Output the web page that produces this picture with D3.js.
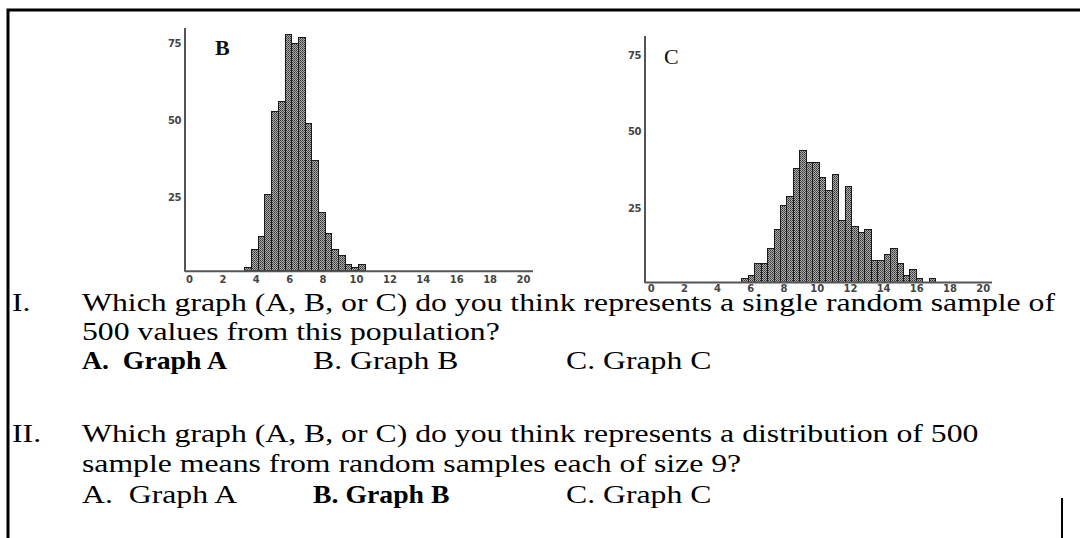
<!DOCTYPE html>
<html>
<head>
<meta charset="utf-8">
<script src="https://cdn.jsdelivr.net/npm/d3@7"></script>
<style>
  body { margin: 0; background: #fff; }
  svg { display: block; }
  .tick text { font-family: "DejaVu Sans", sans-serif; font-weight: bold; fill: #444; }
</style>
</head>
<body>
<div id="chart"></div>
<script>
// histogram B: counts per bin, bins start at 3.35, width 0.4
let countsB = [1, 7, 11, 25, 52, 55, 77, 74, 76, 48, 36, 19, 12, 7, 5, 2, 1, 2];
let binStartB = 3.35, binWidthB = 0.4;

// histogram C: counts per bin, bins start at 5.48, width 0.39
let countsC = [1, 2, 6, 6, 11, 17, 25, 28, 37, 43, 39, 39, 34, 30, 35, 20, 31, 18, 16, 17,
  7, 7, 9, 11, 6, 2, 4, 1, 0, 1];
let binStartC = 5.48, binWidthC = 0.39;

let xTicks = [0, 2, 4, 6, 8, 10, 12, 14, 16, 18, 20];
let yTicks = [25, 50, 75];

let width = 1080, height = 538;

let svg = d3.select("#chart")
  .append("svg")
  .attr("width", width)
  .attr("height", height);

// dithered grey fill like the scanned bars
let pat = svg.append("defs").append("pattern")
  .attr("id", "dither")
  .attr("width", 2).attr("height", 2)
  .attr("patternUnits", "userSpaceOnUse");
pat.append("rect").attr("width", 2).attr("height", 2).attr("fill", "#adadad");
pat.append("rect").attr("width", 1).attr("height", 1).attr("fill", "#333");
pat.append("rect").attr("x", 1).attr("y", 1).attr("width", 1).attr("height", 1).attr("fill", "#555");

// page frame
svg.append("path")
  .attr("d", "M8,538 V10 H1080")
  .attr("fill", "none").attr("stroke", "#000").attr("stroke-width", 3);
svg.append("line")
  .attr("x1", 1062).attr("x2", 1062).attr("y1", 498).attr("y2", 538)
  .attr("stroke", "#000").attr("stroke-width", 2);

function histogram(cfg) {
  let g = svg.append("g");
  let x = d3.scaleLinear().domain([0, 20]).range(cfg.xRange);
  let y = d3.scaleLinear().domain([0, 75]).range(cfg.yRange);

  let bins = cfg.counts.map(function (c, i) {
    return { x0: cfg.start + i * cfg.w, x1: cfg.start + (i + 1) * cfg.w, n: c };
  });

  g.selectAll("rect.bar")
    .data(bins.filter(function (d) { return d.n > 0; }))
    .enter()
    .append("rect")
    .attr("class", "bar")
    .attr("x", function (d) { return x(d.x0); })
    .attr("width", function (d) { return x(d.x1) - x(d.x0); })
    .attr("y", function (d) { return y(d.n); })
    .attr("height", function (d) { return y(0) - y(d.n); })
    .attr("fill", "url(#dither)")
    .attr("stroke", "#1a1a1a")
    .attr("stroke-width", 1)
    .attr("shape-rendering", "crispEdges");

  // axis lines
  g.append("line")
    .attr("x1", cfg.axisX).attr("x2", cfg.axisX)
    .attr("y1", cfg.axisTop).attr("y2", y(0) + 1)
    .attr("stroke", "#555").attr("stroke-width", 2);
  g.append("line")
    .attr("x1", cfg.axisX).attr("x2", cfg.axisEnd)
    .attr("y1", y(0) + 0.5).attr("y2", y(0) + 0.5)
    .attr("stroke", "#555").attr("stroke-width", 2);

  let xa = g.append("g")
    .attr("transform", "translate(0," + (y(0) + cfg.labelGap) + ")")
    .call(d3.axisBottom(x).tickValues(xTicks).tickSize(0).tickPadding(2));
  xa.select(".domain").remove();
  xa.selectAll("text").attr("font-size", 10);

  let ya = g.append("g")
    .attr("transform", "translate(" + (cfg.axisX - 2) + ",3)")
    .call(d3.axisLeft(y).tickValues(yTicks).tickSize(0).tickPadding(2));
  ya.select(".domain").remove();
  ya.selectAll("text").attr("font-size", 10).attr("letter-spacing", -0.5);

  g.append("text")
    .attr("x", cfg.labelX).attr("y", cfg.labelY)
    .attr("font-family", "Liberation Serif, serif")
    .attr("font-weight", cfg.labelBold ? "bold" : "normal")
    .attr("font-size", 22)
    .attr("fill", "#111")
    .text(cfg.label);
}

histogram({
  counts: countsB, start: binStartB, w: binWidthB,
  xRange: [189, 523], yRange: [270.7, 40.6],
  axisX: 185, axisTop: 28, axisEnd: 533, labelGap: 3,
  label: "B", labelX: 215, labelY: 55, labelBold: true
});

histogram({
  counts: countsC, start: binStartC, w: binWidthC,
  xRange: [650.7, 982.7], yRange: [282, 52],
  axisX: 645, axisTop: 36, axisEnd: 992, labelGap: 1,
  label: "C", labelX: 664, labelY: 64, labelBold: false
});

// question text
let lines = [
  { x: 12, y: 311, t: "I.", b: false },
  { x: 82, y: 311, t: "Which graph (A, B, or C) do you think represents a single random sample of", b: false },
  { x: 82, y: 340, t: "500 values from this population?", b: false },
  { x: 82, y: 369, t: "A.  Graph A", b: true },
  { x: 313, y: 369, t: "B. Graph B", b: false },
  { x: 566, y: 369, t: "C. Graph C", b: false },
  { x: 12, y: 442, t: "II.", b: false },
  { x: 82, y: 442, t: "Which graph (A, B, or C) do you think represents a distribution of 500", b: false },
  { x: 82, y: 472, t: "sample means from random samples each of size 9?", b: false },
  { x: 82, y: 503, t: "A.  Graph A", b: false },
  { x: 313, y: 503, t: "B. Graph B", b: true },
  { x: 566, y: 503, t: "C. Graph C", b: false }
];

let tg = svg.append("g");
tg.selectAll("text.q")
  .data(lines)
  .enter()
  .append("text")
  .attr("class", "q")
  .attr("transform", function (d) {
    return "translate(" + d.x + "," + d.y + ") scale(" + (d.b ? 1.11 : 1.27) + ",1)";
  })
  .attr("font-family", "Liberation Serif, 'Times New Roman', serif")
  .attr("font-size", 25)
  .attr("font-weight", function (d) { return d.b ? "bold" : "normal"; })
  .attr("xml:space", "preserve")
  .style("white-space", "pre")
  .attr("fill", "#000")
  .text(function (d) { return d.t; });
</script>
</body>
</html>
